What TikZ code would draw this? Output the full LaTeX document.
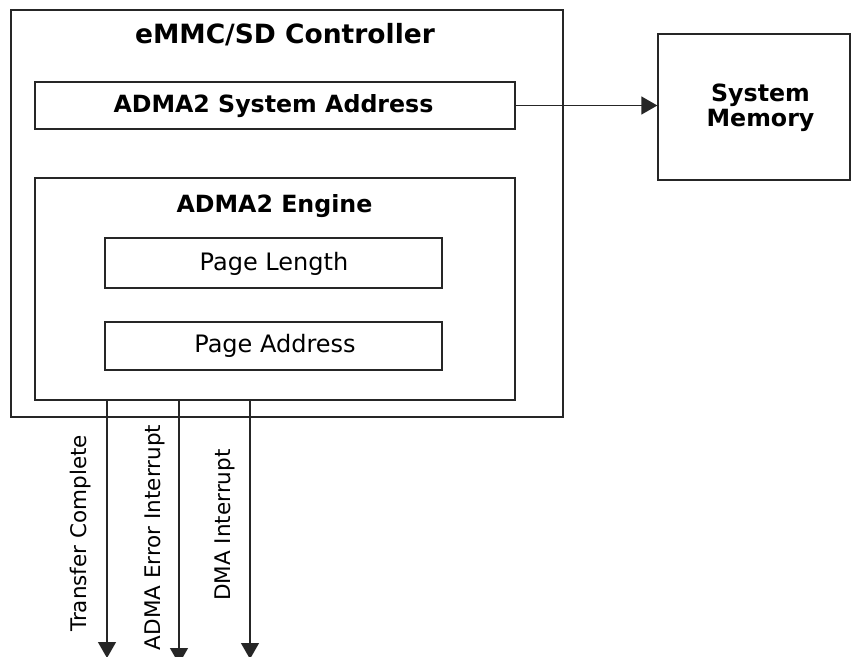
\documentclass[tikz,border=0pt]{standalone}
\usepackage{fontspec}
\setmainfont{DejaVu Sans}
\usetikzlibrary{arrows.meta}
\begin{document}
\begin{tikzpicture}[x=1pt,y=-1pt,
  box/.style={draw=black!85,line width=1.3pt,inner sep=0pt},
  big/.style={font=\bfseries\fontsize{26.5}{30}\selectfont,inner sep=0pt,anchor=base},
  ttl/.style={font=\bfseries\fontsize{23.7}{25}\selectfont,inner sep=0pt,anchor=base},
  lbl/.style={font=\fontsize{24}{28}\selectfont,inner sep=0pt,anchor=base},
  vlbl/.style={font=\fontsize{21.5}{24}\selectfont,inner sep=0pt,rotate=90},
  arr/.style={draw=black!85,line width=1.3pt,-{Triangle[width=18pt,length=16pt]}}]
\useasboundingbox (0,0) rectangle (851,656);
\node[box,minimum width=552pt,minimum height=407pt] (ctrl) at (287,213.5) {};
\node[big] (ctrlt) at (285,43) {eMMC/SD Controller};
\node[box,minimum width=480pt,minimum height=47pt] (addr) at (275,105.5) {};
\node[ttl] (addrt) at (273.5,112) {ADMA2 System Address};
\node[box,minimum width=192pt,minimum height=146pt] (mem) at (754,107) {};
\node[ttl,align=center,anchor=center] (memt) at (760.5,108) {System\\Memory};
\node[box,minimum width=480pt,minimum height=222pt] (eng) at (275,289) {};
\node[ttl] (engt) at (274.5,212) {ADMA2 Engine};
\node[box,minimum width=337pt,minimum height=50pt] (plen) at (273.5,263) {};
\node[lbl] (plent) at (274,270) {Page Length};
\node[box,minimum width=337pt,minimum height=48pt] (padr) at (273.5,346) {};
\node[lbl] (padrt) at (275,352) {Page Address};
\coordinate (e1) at (107,658);
\coordinate (e2) at (179,664);
\coordinate (e3) at (250,659);
\draw[arr] (addr.east) -- (addr.east -| mem.west);
\draw[arr] (eng.south -| e1) -- (e1);
\draw[arr] (eng.south -| e2) -- (e2);
\draw[arr] (eng.south -| e3) -- (e3);
\node[vlbl] (l1) at (81,533.5) {Transfer Complete};
\node[vlbl] (l2) at (155,537.5) {ADMA Error Interrupt};
\node[vlbl] (l3) at (225,525) {DMA Interrupt};
\end{tikzpicture}
\end{document}
